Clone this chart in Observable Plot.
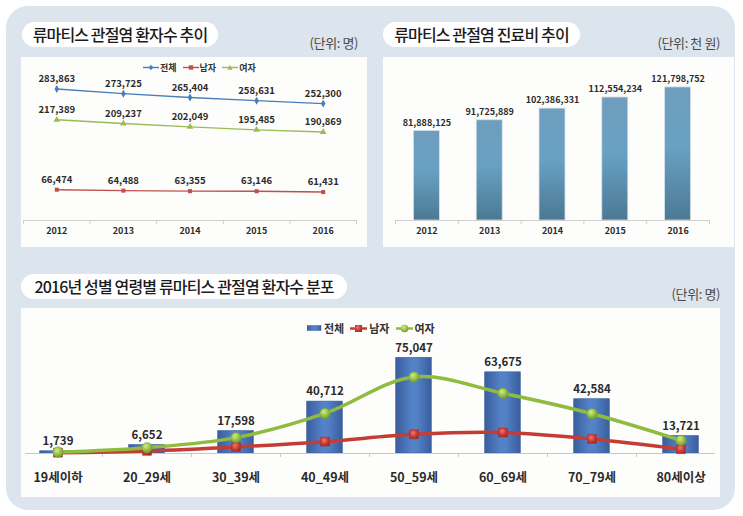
<!DOCTYPE html>
<html><head><meta charset="utf-8">
<script src="https://cdn.jsdelivr.net/npm/d3@7"></script>
<script src="https://cdn.jsdelivr.net/npm/@observablehq/plot@0.6"></script>
<style>
body{margin:0;background:#fff;font-family:"Noto Sans CJK KR","Noto Sans",sans-serif;}
#wrap{position:relative;width:743px;height:516px;overflow:hidden;background:#fff;}
.bg{position:absolute;left:6px;top:6px;width:729px;height:504px;background:#dce5ee;border-radius:22px;}
.panel{position:absolute;background:#fdfdfb;}
.panel > svg{position:absolute;left:0;top:0;}
.pill{position:absolute;background:#fff;border-radius:13px;height:25px;line-height:25px;font-size:16px;font-weight:500;color:#1b1b1b;text-align:center;white-space:nowrap;}
.unit{position:absolute;font-size:13px;color:#4a4a4a;white-space:nowrap;letter-spacing:-0.4px;line-height:16px;}
.legend{position:absolute;display:flex;align-items:center;font-weight:bold;color:#333;white-space:nowrap;}
.legend span{display:inline-flex;align-items:center;}
.legend svg{display:block;}
</style></head>
<body><div id="wrap">
<div class="bg"></div>
<div class="pill" style="left:22px;top:22px;width:196px;letter-spacing:-0.85px;">류마티스 관절염 환자수 추이</div>
<div class="unit" style="right:385px;top:35px;">(단위: 명)</div>
<div class="pill" style="left:383px;top:22px;width:197px;letter-spacing:-0.85px;">류마티스 관절염 진료비 추이</div>
<div class="unit" style="right:23px;top:35px;">(단위: 천 원)</div>
<div class="pill" style="left:21px;top:274px;width:326px;letter-spacing:-0.85px;">2016년 성별 연령별 류마티스 관절염 환자수 분포</div>
<div class="unit" style="right:23px;top:286px;">(단위: 명)</div>
<div class="panel" id="p1" style="left:21px;top:57px;width:346px;height:190px;"></div>
<div class="panel" id="p2" style="left:383px;top:57px;width:351px;height:190px;"></div>
<div class="panel" id="p3" style="left:21px;top:308px;width:699px;height:189px;"></div>
</div>
<script>
// ---------- data ----------
const years = ["2012", "2013", "2014", "2015", "2016"];
const patientTotal = [283863, 273725, 265404, 258631, 252300];
const patientMale = [66474, 64488, 63355, 63146, 61431];
const patientFemale = [217389, 209237, 202049, 195485, 190869];
const costThousandWon = [81888125, 91725889, 102386331, 112554234, 121798752];
const ageGroups = ["19세이하", "20_29세", "30_39세", "40_49세", "50_59세", "60_69세", "70_79세", "80세이상"];
const ageTotal = [1739, 6652, 17598, 40712, 75047, 63675, 42584, 13721];
const ageMale = [620, 2050, 5150, 9300, 15050, 16475, 11380, 3420];
const ageFemale = [1119, 4602, 12448, 31412, 59997, 47200, 31204, 10301];
const seriesNames = ["전체", "남자", "여자"];

const FONT = '"Noto Sans CJK KR","Noto Sans",sans-serif';
const fmt = d3.format(",");
const NS = "http://www.w3.org/2000/svg";
function addDefs(svg, html) {
  const defs = document.createElementNS(NS, "defs");
  defs.innerHTML = html;
  svg.insertBefore(defs, svg.firstChild);
}

// ---------- chart 1: patients trend ----------
const top1 = [
  {name: seriesNames[0], color: "#4a7ebb", symbol: "diamond", r: 2.4, values: patientTotal},
  {name: seriesNames[1], color: "#c0504d", symbol: "square", r: 2.3, values: patientMale},
  {name: seriesNames[2], color: "#9bbb59", symbol: "triangle", r: 2.5, values: patientFemale}
];
const rows1 = top1.map(s => s.values.map((v, i) => ({i: i + 0.5, value: v, name: s.name})));
const c1 = Plot.plot({
  width: 346, height: 190, marginLeft: 2, marginRight: 11, marginTop: 24, marginBottom: 27,
  style: {background: "transparent", fontFamily: FONT, overflow: "visible"},
  x: {domain: [0, years.length], axis: null},
  y: {domain: [0, 300000], axis: null},
  marks: [
    Plot.ruleY([0], {stroke: "#cfcfcf"}),
    Plot.axisX({ticks: d3.range(years.length + 1), tickSize: 4, tickFormat: () => "", color: "#cfcfcf", label: null}),
    Plot.axisX({ticks: years.map((_, i) => i + 0.5), tickSize: 0, tickPadding: 7, tickFormat: i => years[Math.floor(i)],
      fontSize: 9, fontWeight: "bold", color: "#2b2b2b", fontFamily: FONT, label: null}),
    ...top1.map((s, k) => Plot.line(rows1[k], {x: "i", y: "value", stroke: s.color, strokeWidth: 1.4})),
    ...top1.map((s, k) => Plot.dot(rows1[k], {x: "i", y: "value", fill: s.color, symbol: s.symbol, r: s.r})),
    ...top1.map((s, k) => Plot.text(rows1[k], {x: "i", y: "value", text: d => fmt(d.value), dy: -10,
      fontSize: 9.5, fontWeight: "bold", fill: "#2b2b2b", fontFamily: FONT}))
  ]
});
document.getElementById("p1").appendChild(c1);

// legend 1
(function () {
  const lg = document.createElement("div");
  lg.className = "legend";
  lg.style.cssText = "left:122px;top:4px;font-size:9px;gap:6px;";
  const shapes = {
    diamond: c => `<path d="M8 0.8 L10.3 3.5 L8 6.2 L5.7 3.5Z" fill="${c}"/>`,
    square: c => `<rect x="5.8" y="1.3" width="4.4" height="4.4" fill="${c}"/>`,
    triangle: c => `<path d="M8 0.8 L10.6 5.8 L5.4 5.8Z" fill="${c}"/>`
  };
  lg.innerHTML = top1.map(s => `<span><svg width="16" height="7" style="margin-right:1px"><line x1="0" x2="16" y1="3.5" y2="3.5" stroke="${s.color}" stroke-width="1.4"/>${shapes[s.symbol](s.color)}</svg>${s.name}</span>`).join("");
  document.getElementById("p1").appendChild(lg);
})();

// ---------- chart 2: cost trend ----------
const rows2 = costThousandWon.map((v, i) => ({i: i + 0.5, value: v}));
const c2 = Plot.plot({
  width: 351, height: 190, marginLeft: 12, marginRight: 25, marginTop: 10, marginBottom: 27,
  style: {background: "transparent", fontFamily: FONT, overflow: "visible"},
  x: {domain: [0, years.length], axis: null},
  y: {domain: [0, 140000000], axis: null},
  marks: [
    Plot.rectY(rows2, {x1: d => d.i - 0.207, x2: d => d.i + 0.207, y: "value", fill: "url(#tealGrad)", stroke: "#d5e2ea", strokeWidth: 0.8}),
    Plot.ruleY([0], {stroke: "#cfcfcf"}),
    Plot.axisX({ticks: d3.range(years.length + 1), tickSize: 4, tickFormat: () => "", color: "#cfcfcf", label: null}),
    Plot.axisX({ticks: years.map((_, i) => i + 0.5), tickSize: 0, tickPadding: 7, tickFormat: i => years[Math.floor(i)],
      fontSize: 9, fontWeight: "bold", color: "#2b2b2b", fontFamily: FONT, label: null}),
    Plot.text(rows2, {x: "i", y: "value", text: d => fmt(d.value), dy: -8, fontSize: 9, fontWeight: "bold", fill: "#2b2b2b", fontFamily: FONT})
  ]
});
addDefs(c2, `<linearGradient id="tealGrad" x1="0" y1="0" x2="0" y2="1">
  <stop offset="0" stop-color="#6f9dbd"/><stop offset="0.45" stop-color="#68a1c3"/><stop offset="1" stop-color="#4c7994"/></linearGradient>`);
document.getElementById("p2").appendChild(c2);

// ---------- chart 3: age distribution ----------
const rows3 = ageGroups.map((g, i) => ({i: i + 0.5, group: g, total: ageTotal[i], male: ageMale[i], female: ageFemale[i]}));
const c3 = Plot.plot({
  width: 699, height: 189, marginLeft: 4, marginRight: 5, marginTop: 43, marginBottom: 44,
  style: {background: "transparent", fontFamily: FONT, overflow: "visible"},
  x: {domain: [0, ageGroups.length], range: [-8, 704], axis: null},
  y: {domain: [0, 80000], axis: null},
  marks: [
    Plot.rectY(rows3, {x1: d => d.i - 0.2, x2: d => d.i + 0.2, y: "total", fill: "url(#blueGrad)", stroke: "#3a5f9e", strokeWidth: 0.6}),
    Plot.ruleY([0], {stroke: "#c8c8c8"}),
    Plot.axisX({ticks: d3.range(1, ageGroups.length), tickSize: 4, tickFormat: () => "", color: "#c8c8c8", label: null}),
    Plot.axisX({ticks: ageGroups.map((_, i) => i + 0.5), tickSize: 0, tickPadding: 20, tickFormat: i => ageGroups[Math.floor(i)],
      fontSize: 12.5, fontWeight: "bold", color: "#2b2b2b", fontFamily: FONT, label: null}),
    Plot.line(rows3, {x: "i", y: "male", stroke: "#c43c36", strokeWidth: 3.5, curve: "catmull-rom"}),
    Plot.line(rows3, {x: "i", y: "female", stroke: "#8fbb3e", strokeWidth: 3.5, curve: "catmull-rom"}),
    Plot.dot(rows3, {x: "i", y: "male", symbol: "square", r: 5, fill: "url(#redGrad)", stroke: "#a82c27", strokeWidth: 0.5}),
    Plot.dot(rows3, {x: "i", y: "female", r: 5.2, fill: "url(#greenGrad)", stroke: "#78a02c", strokeWidth: 0.5}),
    Plot.text(rows3, {x: "i", y: "total", text: d => fmt(d.total), dy: -10, fontSize: 11.5, fontWeight: "bold", fill: "#2b2b2b", fontFamily: FONT})
  ]
});
addDefs(c3, `<linearGradient id="blueGrad" x1="0" y1="0" x2="1" y2="0">
  <stop offset="0" stop-color="#3a5d9d"/><stop offset="0.45" stop-color="#5482c8"/><stop offset="0.6" stop-color="#5281c6"/><stop offset="1" stop-color="#3a5d9d"/></linearGradient>
  <radialGradient id="greenGrad" cx="0.4" cy="0.35" r="0.7"><stop offset="0" stop-color="#d0ec8a"/><stop offset="0.5" stop-color="#9cc64a"/><stop offset="1" stop-color="#6f9626"/></radialGradient>
  <radialGradient id="redGrad" cx="0.4" cy="0.35" r="0.75"><stop offset="0" stop-color="#ee7a72"/><stop offset="0.5" stop-color="#cf3f38"/><stop offset="1" stop-color="#9e2520"/></radialGradient>`);
document.getElementById("p3").appendChild(c3);

// legend 3
(function () {
  const lg = document.createElement("div");
  lg.className = "legend";
  lg.style.cssText = "left:286px;top:12px;font-size:11px;gap:6px;";
  const sw = [
    `<svg width="15" height="8" style="margin-right:2px"><rect x="0" y="1.5" width="14" height="5" fill="url(#blueGrad)" stroke="#3a5f9e" stroke-width="0.5"/></svg>`,
    `<svg width="17" height="9" style="margin-right:2px"><line x1="0" x2="17" y1="4.5" y2="4.5" stroke="#c43c36" stroke-width="2.5"/><rect x="5" y="1" width="7" height="7" fill="url(#redGrad)"/></svg>`,
    `<svg width="17" height="9" style="margin-right:2px"><line x1="0" x2="17" y1="4.5" y2="4.5" stroke="#8fbb3e" stroke-width="2.5"/><circle cx="8.5" cy="4.5" r="3.8" fill="url(#greenGrad)"/></svg>`
  ];
  lg.innerHTML = seriesNames.map((n, k) => `<span>${sw[k]}${n}</span>`).join("");
  document.getElementById("p3").appendChild(lg);
})();
</script>
</body></html>
